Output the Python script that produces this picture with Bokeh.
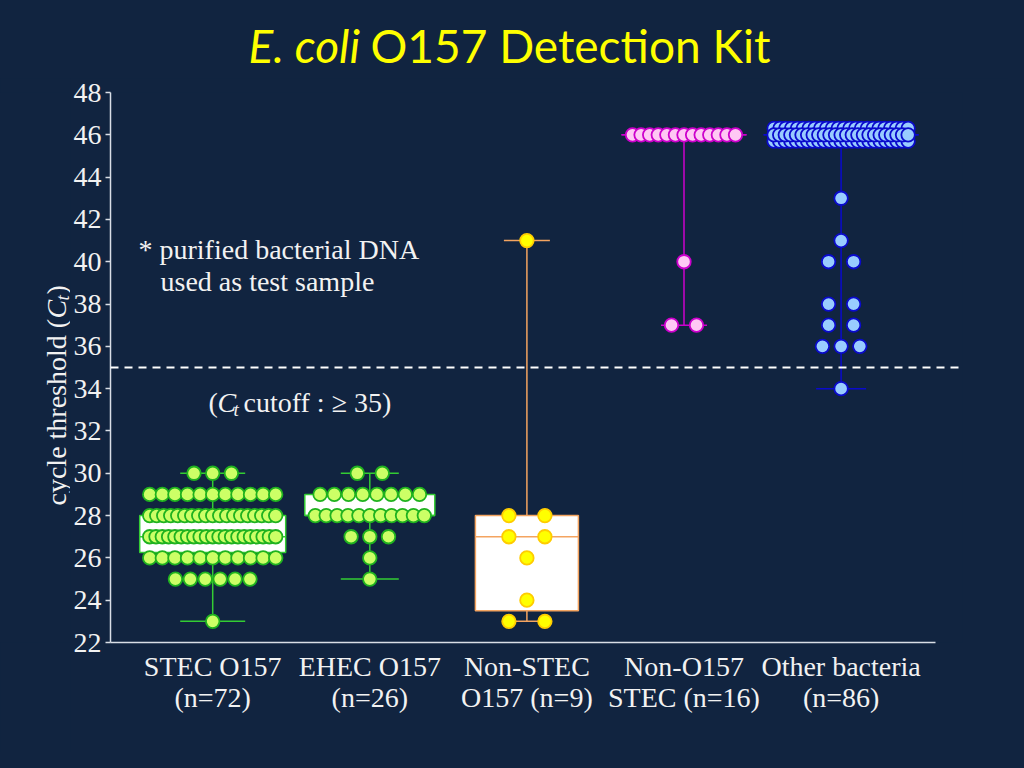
import numpy as np
from math import ceil
from bokeh.plotting import figure
from bokeh.layouts import column, row
from bokeh.models import Range1d, Span, Label, FixedTicker, GlobalInlineStyleSheet
from bokeh.embed import file_html
from bokeh.resources import INLINE

# ---------------- data ----------------
categories = ["STEC O157\n(n=72)", "EHEC O157\n(n=26)", "Non-STEC\nO157 (n=9)",
              "Non-O157\nSTEC (n=16)", "Other bacteria\n(n=86)"]

# Ct values observed in each group and how many isolates gave each value
stec_o157_ct = [30, 29, 28, 27, 26, 25, 23]
stec_o157_n = [3, 11, 19, 21, 11, 6, 1]

ehec_o157_ct = [30, 29, 28, 27, 26, 25]
ehec_o157_n = [2, 8, 11, 3, 1, 1]

non_stec_o157_ct = [41, 28, 27, 26, 24, 23]
non_stec_o157_n = [1, 2, 2, 1, 1, 2]

non_o157_stec_ct = [46, 40, 37]
non_o157_stec_n = [13, 1, 2]

other_bacteria_ct = [46, 43, 41, 40, 38, 37, 36, 34]
other_bacteria_n = [74, 1, 1, 2, 2, 2, 3, 1]

cutoff = 35
y_ticks = list(range(22, 49, 2))

groups_ct = [stec_o157_ct, ehec_o157_ct, non_stec_o157_ct, non_o157_stec_ct, other_bacteria_ct]
groups_n = [stec_o157_n, ehec_o157_n, non_stec_o157_n, non_o157_stec_n, other_bacteria_n]

# ---------------- styles ----------------
BG = "#112440"
FG = "#F2F2F2"
styles = [
    dict(fill="#CCFF66", line="#1FB21F", whisk="#33CC33", box=146, cap=65, span=126, gap=12.6),
    dict(fill="#CCFF66", line="#1FB21F", whisk="#33CC33", box=130, cap=58, span=109, gap=12.6),
    dict(fill="#FFFF00", line="#FFCC00", whisk="#F4A460", box=103, cap=46, span=80, gap=23.6),
    dict(fill="#FFC8F4", line="#CC00CC", whisk="#CC00CC", box=125, cap=46, span=103, gap=12.6),
    dict(fill="#99CCFF", line="#0A0ACC", whisk="#0A0ACC", box=155, cap=50, span=134, gap=12.6),
]

TOTAL_W, TOTAL_H = 1008, 752
TITLE_H = 78
YLAB_W = 70
X0, XS = 212.2, 157.1
Y_BOT, Y_TOP = 642.0, 92.0
PPU = (Y_BOT - Y_TOP) / 26.0


def px2x(px):
    return (px - X0) / XS


def py2y(py):
    return 22 + (Y_BOT - py) / PPU


sheet = GlobalInlineStyleSheet(css=f"html, body {{ background-color: {BG}; }}")

MAIN_W = TOTAL_W - YLAB_W
MAIN_H = TOTAL_H - TITLE_H
p = figure(width=MAIN_W, height=MAIN_H, output_backend="svg", toolbar_location=None,
           x_range=Range1d(px2x(110), px2x(962)), y_range=Range1d(22, 48),
           min_border_left=110 - YLAB_W, min_border_right=TOTAL_W - 962,
           min_border_top=92 - TITLE_H, min_border_bottom=TOTAL_H - 642)
p.background_fill_color = None
p.border_fill_color = BG
p.outline_line_color = None
p.grid.grid_line_color = None

axis_col = "#D9DEE6"
p.yaxis.ticker = FixedTicker(ticks=y_ticks)
p.yaxis.axis_line_color = axis_col
p.yaxis.axis_line_width = 1.5
p.yaxis.major_tick_line_color = axis_col
p.yaxis.major_tick_line_width = 1.5
p.yaxis.major_tick_out = 5
p.yaxis.major_tick_in = 0
p.yaxis.minor_tick_line_color = None
p.yaxis.major_label_standoff = 4
p.yaxis.major_label_text_font = "Liberation Serif"
p.yaxis.major_label_text_font_size = "28px"
p.yaxis.major_label_text_color = FG

p.xaxis.ticker = FixedTicker(ticks=list(range(len(categories))))
p.xaxis.major_label_overrides = {i: c for i, c in enumerate(categories)}
p.xaxis.bounds = (px2x(110), px2x(935))
p.xaxis.axis_line_color = axis_col
p.xaxis.axis_line_width = 1.5
p.xaxis.major_tick_line_color = None
p.xaxis.minor_tick_line_color = None
p.xaxis.major_label_standoff = 2
p.xaxis.major_label_text_font = "Liberation Serif"
p.xaxis.major_label_text_font_size = "28px"
p.xaxis.major_label_text_color = FG
p.xaxis.major_label_text_line_height = 1.0

p.add_layout(Span(location=cutoff, dimension="width", line_color="white",
                  line_dash="8 6", line_width=2))


def swarm(vals, counts, span_px, gap, rowmax=25):
    pts = []
    for v, k in zip(vals, counts):
        nrows = ceil(k / rowmax)
        per = [k // nrows + (1 if r < k % nrows else 0) for r in range(nrows)]
        for r, kk in enumerate(per):
            dy = (r - (nrows - 1) / 2) * 0.3 if nrows > 1 else 0.0
            if kk == 1:
                offs = np.array([0.0])
            else:
                sp = min(12.4 + gap / (kk - 1), span_px / (kk - 1))
                offs = (np.arange(kk) - (kk - 1) / 2) * sp
            for o in offs:
                pts.append((abs(dy), o / XS, v + dy))
    pts.sort(key=lambda t: -t[0])
    return [t[1] for t in pts], [t[2] for t in pts]


for i, (cts, ns, st) in enumerate(zip(groups_ct, groups_n, styles)):
    data = np.repeat(np.array(cts, dtype=float), ns)
    q1, med, q3 = np.percentile(data, [25, 50, 75], method="weibull")
    lo, hi = data.min(), data.max()
    bw = st["box"] / XS / 2
    cw = st["cap"] / XS / 2
    p.segment(x0=[i], y0=[lo], x1=[i], y1=[hi], line_color=st["whisk"], line_width=1.5)
    p.quad(left=[i - bw], right=[i + bw], bottom=[q1], top=[q3],
           fill_color="white", line_color=st["whisk"], line_width=1.5)
    p.segment(x0=[i - bw], y0=[med], x1=[i + bw], y1=[med],
              line_color=st["whisk"], line_width=1.5)
    p.segment(x0=[i - cw, i - cw], y0=[lo, hi], x1=[i + cw, i + cw], y1=[lo, hi],
              line_color=st["whisk"], line_width=1.5)
    ox, oy = swarm(cts, ns, st["span"], st["gap"])
    p.scatter(x=[i + o for o in ox], y=oy, size=13.5, marker="circle",
              fill_color=st["fill"], line_color=st["line"], line_width=1.8)

serif = "Liberation Serif"


def lab(fig, x, y, text, size=28, style="normal", color=FG, align="left",
        baseline="alphabetic", angle=0.0, font=serif):
    fig.add_layout(Label(x=x, y=y, text=text, text_font=font,
                         text_font_size=f"{size}px", text_font_style=style,
                         text_color=color, text_align=align, text_baseline=baseline,
                         angle=angle))


def plab(px, py, text, **kw):
    lab(p, px2x(px), py2y(py), text, **kw)


plab(138, 249, "* purified bacterial DNA")
plab(160, 281, "used as test sample")
plab(208, 402, "(")
plab(217, 402, "C", style="italic")
plab(233, 409, "t", size=19, style="italic")
plab(243, 402, "cutoff : \u2265 35)")


def blank(w, h, yr):
    f = figure(width=w, height=h, output_backend="svg", toolbar_location=None,
               x_range=Range1d(0, w), y_range=yr,
               x_axis_type=None, y_axis_type=None,
               min_border=0, min_border_left=0, min_border_right=0,
               min_border_top=0, min_border_bottom=0)
    f.background_fill_color = None
    f.border_fill_color = BG
    f.outline_line_color = None
    f.grid.grid_line_color = None
    return f


# title strip: its y data = distance from the strip's bottom edge
tf = blank(TOTAL_W, TITLE_H, Range1d(0, TITLE_H))
lab(tf, 248, TITLE_H - 45, "E. coli", size=46, style="italic", color="#FFFF00",
    baseline="middle", font="Lato")
lab(tf, 370, TITLE_H - 45, "O157 Detection Kit", size=46, color="#FFFF00",
    baseline="middle", font="Lato")

# y-axis title strip: its frame is aligned with the main frame, so share the Ct scale
yf = blank(YLAB_W, MAIN_H, Range1d(22, 48))
ang = np.pi / 2


def yl(px, py, text, **kw):
    lab(yf, px, py2y(py), text, angle=ang, **kw)


yl(56, 505, "cycle threshold (")
yl(56, 318, "C", style="italic")
yl(62, 300, "t", size=19, style="italic")
yl(56, 294, ")")

layout = column(tf, row(yf, p, spacing=0), spacing=0)
layout.stylesheets = [sheet]

p = layout
open("out.html", "w").write(file_html(p, INLINE))
